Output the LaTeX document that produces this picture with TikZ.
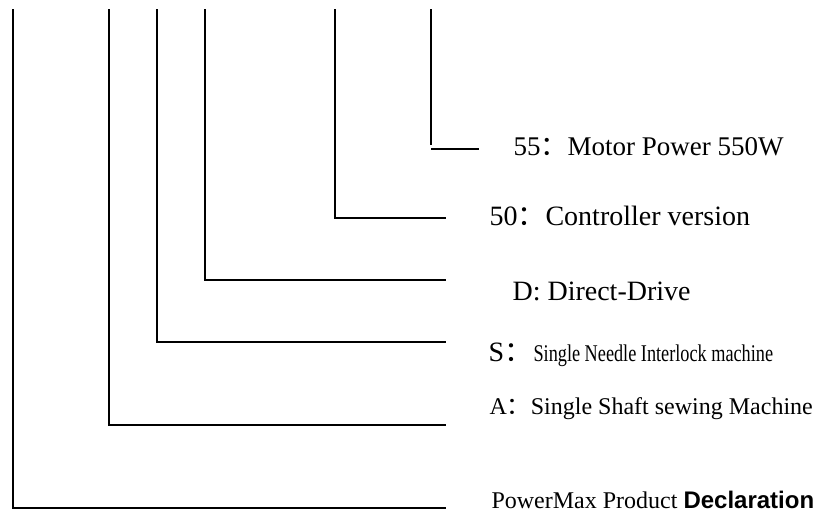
\documentclass[tikz,border=0pt]{standalone}
\usepackage{fontspec}
\setmainfont{Liberation Serif}
\setsansfont{Liberation Sans}
\newfontfamily\cjk{Noto Sans CJK SC}
\usetikzlibrary{positioning}
\newcommand{\fwcolon}{{\cjk ：}}

\begin{document}
\begin{tikzpicture}[x=1pt, y=-1pt, line width=1.1pt,
    lbl/.style={anchor=base west, inner sep=0pt}]
    \useasboundingbox (0,0) rectangle (822,512);
    % code branches
    \foreach \name/\x/\yend in {prod/13/508, shaft/109/425, needle/157/342,
                                drive/205/280, ctrl/335/218}{
      \coordinate (\name top) at (\x,9);
      \coordinate (\name corner) at (\x,\yend);
      \coordinate (\name end) at (446,\yend);
      \draw (\name top) -- (\name corner) -- (\name end);
    }
    % motor branch
    \coordinate (motor top) at (431,9);
    \coordinate (motor bot) at (431,145);
    \coordinate (motor corner) at (431,149);
    \coordinate (motor end) at (479,149);
    \draw (motor top) -- (motor bot);
    \draw (motor corner) -- (motor end);
    % labels
    \node[lbl, font=\fontsize{27}{31}\selectfont] (motor) at (513,155)
         {55\fwcolon Motor Power 550W};
    \node[lbl, font=\fontsize{28}{32}\selectfont] (ctrl) at (489,225)
         {50\fwcolon Controller version};
    \node[lbl, font=\fontsize{28}{32}\selectfont] (drive) at (512,300)
         {D: Direct-Drive};
    \node[lbl, font=\fontsize{28}{32}\selectfont] (needle) at (488,361)
         {S\fwcolon};
    \node[lbl, font=\fontsize{24}{28}\selectfont] (needle txt) at (533,361)
         {\scalebox{0.76}[1]{Single Needle Interlock machine}};
    \node[lbl, font=\fontsize{24}{28}\selectfont] (shaft) at (489,414)
         {A\fwcolon Single Shaft sewing Machine};
    \node[lbl, font=\fontsize{24}{28}\selectfont] (prod) at (491,508)
         {PowerMax Product \textsf{\bfseries Declaration}};
\end{tikzpicture}
\end{document}
